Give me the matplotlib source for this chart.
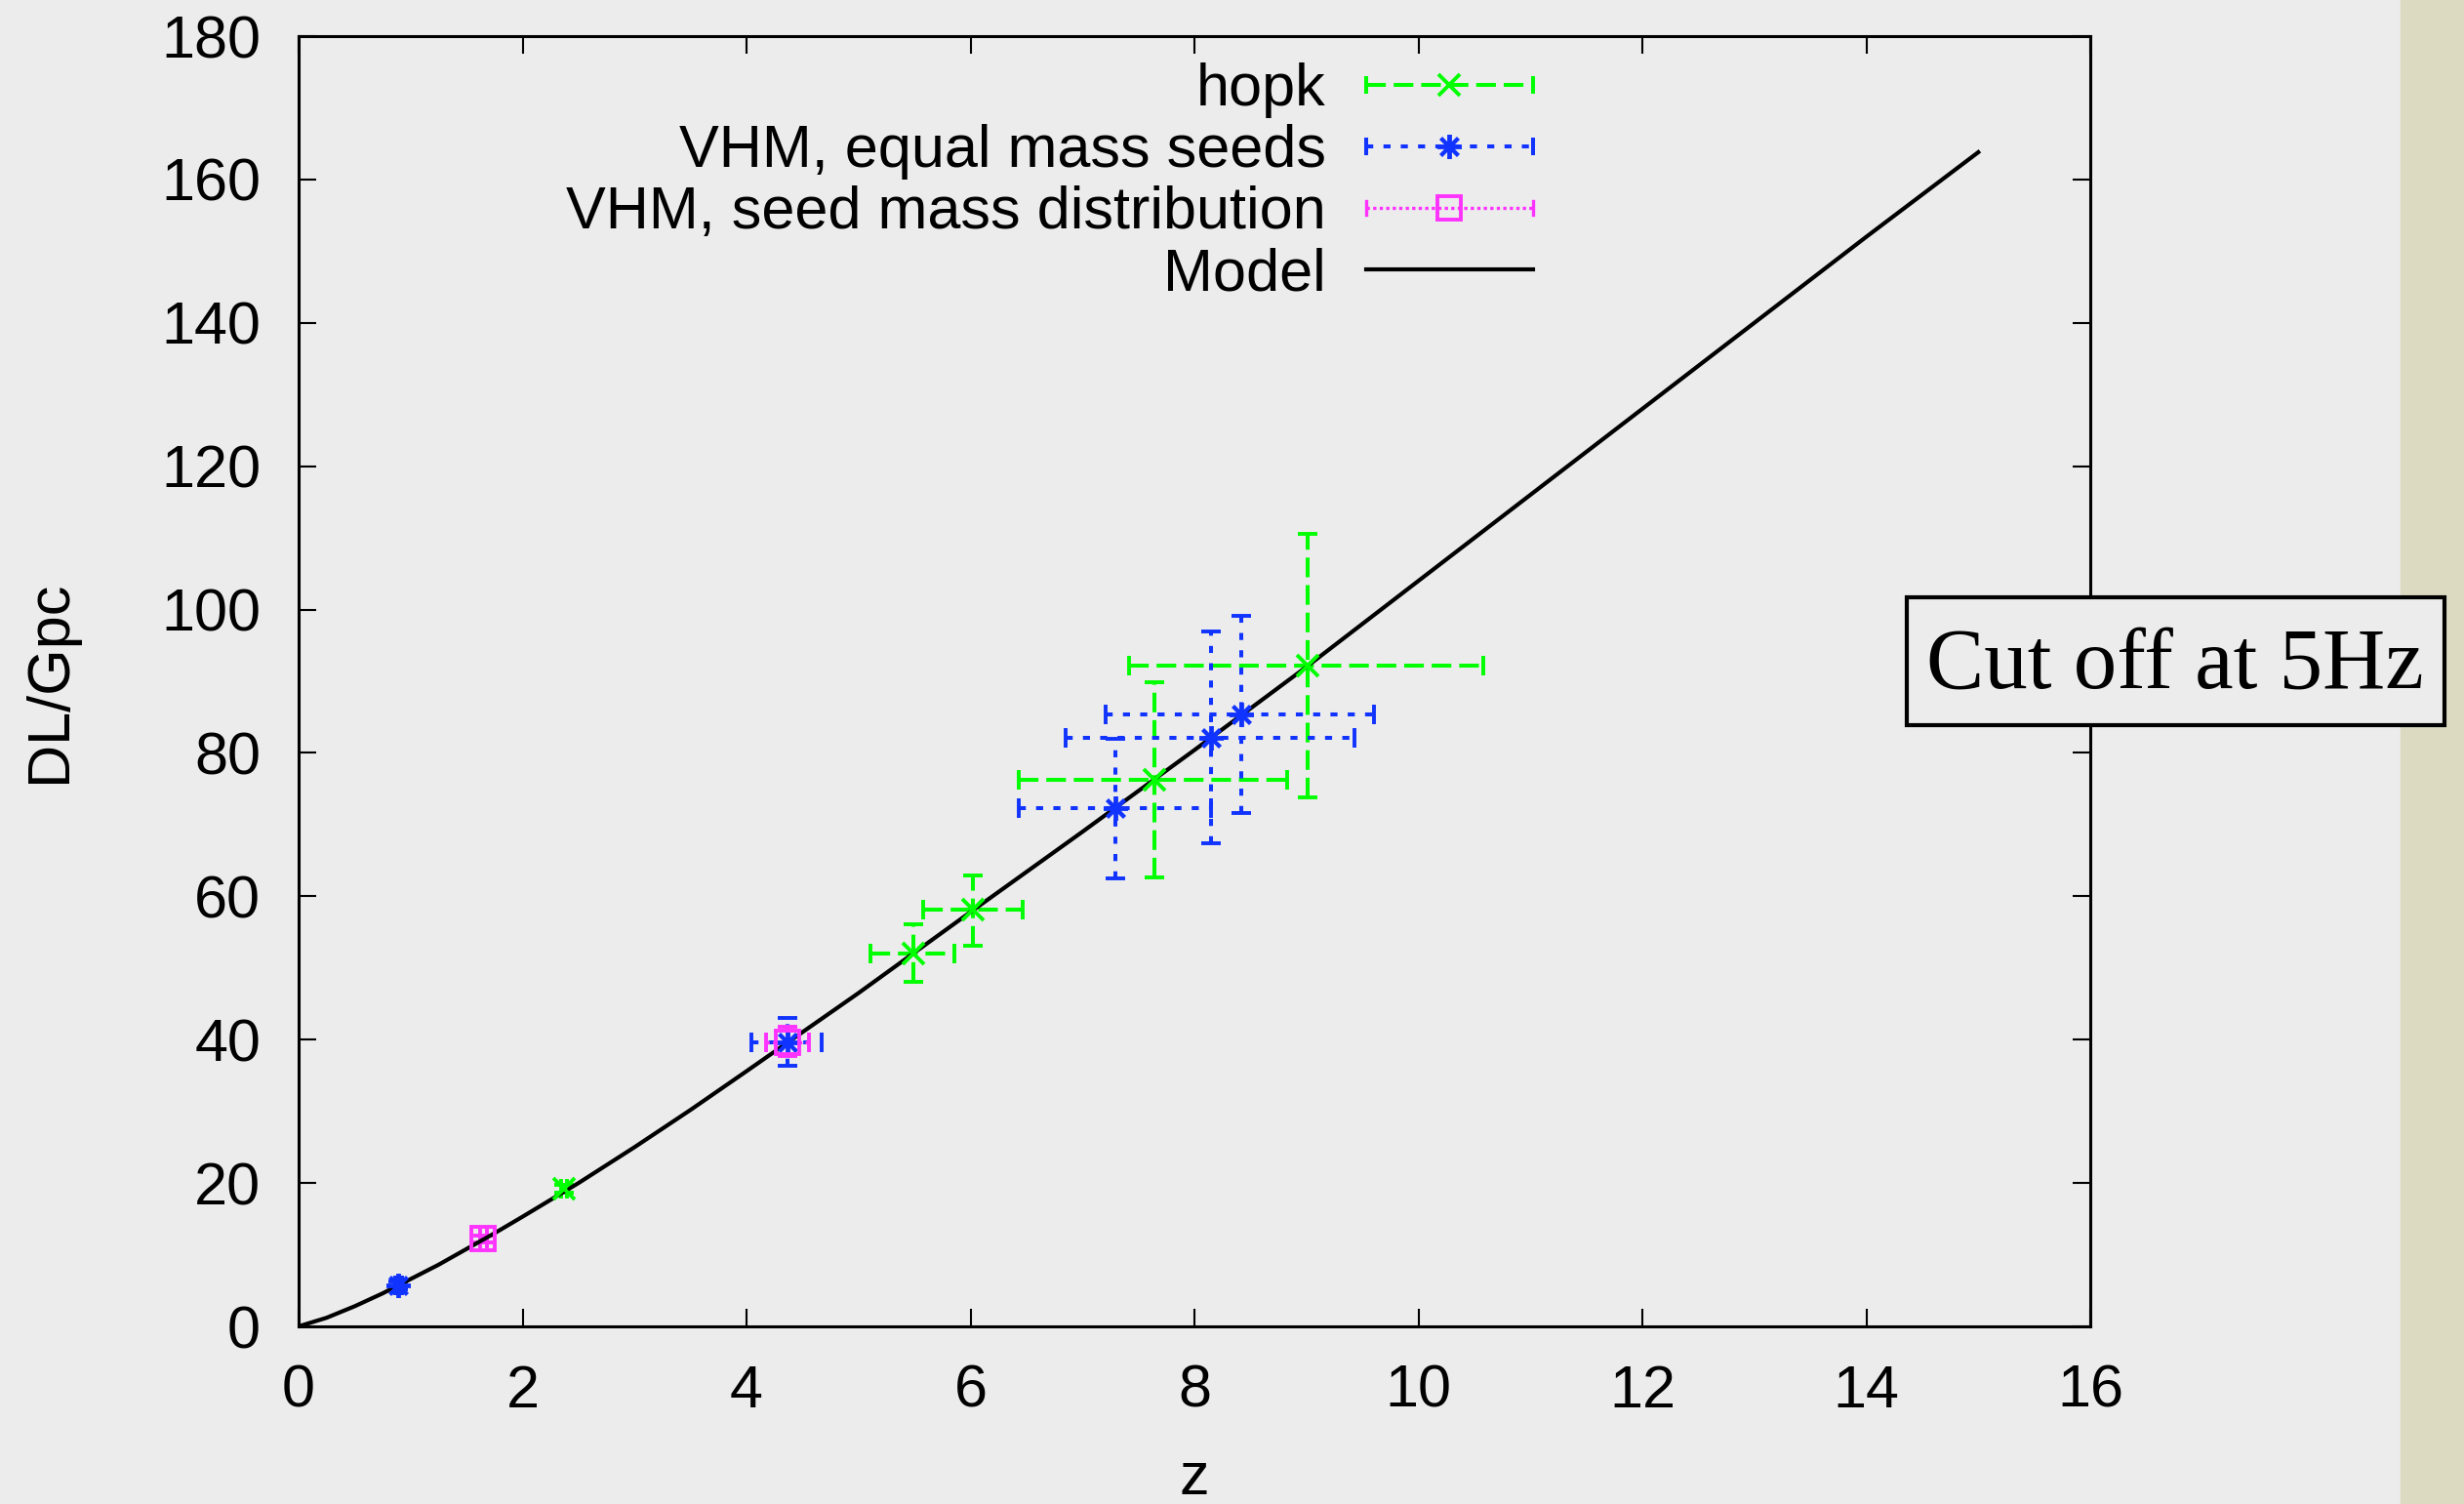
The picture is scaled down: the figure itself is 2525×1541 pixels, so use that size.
import matplotlib
matplotlib.use("Agg")
from matplotlib import pyplot as plt
from matplotlib.lines import Line2D
from matplotlib.legend_handler import HandlerLine2D
from matplotlib.patches import Rectangle
import numpy as np

# hopk
hopk_z = [2.37, 5.49, 6.02, 7.64, 9.01]
hopk_dl = [19.2, 52.0, 58.1, 76.3, 92.2]
hopk_z_lo = [2.34, 5.11, 5.58, 6.43, 7.42]
hopk_z_hi = [2.40, 5.86, 6.47, 8.83, 10.58]
hopk_dl_lo = [18.7, 48.0, 53.1, 62.6, 73.8]
hopk_dl_hi = [19.7, 56.1, 62.9, 89.9, 110.6]

# VHM, equal mass seeds
eq_z = [0.89, 4.37, 7.29, 8.15, 8.42]
eq_dl = [5.7, 39.6, 72.3, 82.1, 85.4]
eq_z_lo = [0.86, 4.04, 6.43, 6.85, 7.21]
eq_z_hi = [0.92, 4.67, 8.15, 9.43, 9.60]
eq_dl_lo = [5.2, 36.4, 62.5, 67.4, 71.6]
eq_dl_hi = [6.2, 43.0, 82.0, 97.0, 99.1]

# VHM, seed mass distribution
sd_z = [1.65, 4.37]
sd_dl = [12.2, 39.6]
sd_z_lo = [1.62, 4.17]
sd_z_hi = [1.68, 4.56]
sd_dl_lo = [11.7, 37.7]
sd_dl_hi = [12.7, 41.8]

# Model
model_z = [0, 0.25, 0.5, 0.75, 1, 1.25, 1.5, 1.75, 2, 2.5, 3, 3.5, 4, 5, 6, 7, 8,
           9, 10, 11, 12, 13, 14, 15]
model_dl = [0, 1.2, 2.8, 4.6, 6.6, 8.6, 10.8, 13.0, 15.3, 20.0, 25.0, 30.2, 35.6,
            46.5, 57.8, 69.0, 80.4, 92.0, 104.0, 116.0, 128.0, 140.0, 152.0, 163.8]

x_ticks = [0, 2, 4, 6, 8, 10, 12, 14, 16]
y_ticks = [0, 20, 40, 60, 80, 100, 120, 140, 160, 180]

GREEN = "#00ff00"
BLUE = "#1133ff"
MAGENTA = "#ff33ff"
BG = "#ececec"

plt.rcParams["font.family"] = ["Liberation Sans", "DejaVu Sans"]

fig = plt.figure(figsize=(25.25, 15.41), dpi=100, facecolor=BG)
ax = fig.add_axes([306 / 2525, 1 - 1359 / 1541, 1836 / 2525, 1322 / 1541])
ax.set_facecolor(BG)

# beige strip on the right
fig.patches.append(Rectangle((2460 / 2525, 0), 1 - 2460 / 2525, 1,
                             transform=fig.transFigure, color="#dcdbc2", zorder=0))


def err_series(z, dl, zlo, zhi, dlo, dhi, color, marker, ms, ls, lw, fill="none"):
    z = np.array(z)
    dl = np.array(dl)
    xerr = [z - np.array(zlo), np.array(zhi) - z]
    yerr = [dl - np.array(dlo), np.array(dhi) - dl]
    _, caps, bars = ax.errorbar(z, dl, xerr=xerr, yerr=yerr, fmt="",
                                linestyle="none", marker=marker,
                                color=color, ms=ms, mew=2.8, mfc=fill,
                                elinewidth=lw, capsize=7, capthick=lw)
    for b in bars:
        b.set_linestyle(ls)


err_series(hopk_z, hopk_dl, hopk_z_lo, hopk_z_hi, hopk_dl_lo, hopk_dl_hi,
           GREEN, "x", 16, (0, (5, 2)), 2.9)
err_series(eq_z, eq_dl, eq_z_lo, eq_z_hi, eq_dl_lo, eq_dl_hi,
           BLUE, (8, 2, 0), 18, (0, (1.8, 2.6)), 2.9)
err_series(sd_z, sd_dl, sd_z_lo, sd_z_hi, sd_dl_lo, sd_dl_hi,
           MAGENTA, "s", 17, (0, (1, 1)), 2.4)

ax.plot(model_z, model_dl, color="black", lw=3.0)

ax.set_xlim(0, 16)
ax.set_ylim(0, 180)
ax.set_xticks(x_ticks)
ax.set_yticks(y_ticks)
ax.tick_params(direction="in", length=13, width=1.5, top=True, right=True,
               labelsize=44, pad=28)
for s in ax.spines.values():
    s.set_linewidth(2.2)

ax.set_xlabel("z", fontsize=44)
ax.set_ylabel("DL/Gpc", fontsize=44)
ax.xaxis.set_label_coords(0.5, -0.097)
ax.yaxis.set_label_coords(-0.123, 0.5)


# gnuplot style key samples with small caps at both ends
class CapHandler(HandlerLine2D):
    def create_artists(self, legend, orig_handle, xdescent, ydescent, width,
                       height, fontsize, trans):
        arts = super().create_artists(legend, orig_handle, xdescent, ydescent,
                                      width, height, fontsize, trans)
        if orig_handle.get_marker() in ("None", None, ""):
            return arts
        ymid = height / 2 - ydescent
        for x in (-xdescent, width - xdescent):
            cap = Line2D([x, x], [ymid - 5, ymid + 5], color=orig_handle.get_color(),
                         lw=orig_handle.get_linewidth())
            cap.set_transform(trans)
            arts.append(cap)
        return arts


handles = [
    Line2D([], [], color=GREEN, ls=(0, (5, 2)), lw=2.9, marker="x", ms=16, mew=2.8),
    Line2D([], [], color=BLUE, ls=(0, (1.8, 2.6)), lw=2.9, marker=(8, 2, 0), ms=18, mew=2.8),
    Line2D([], [], color=MAGENTA, ls=(0, (1, 1)), lw=2.4, marker="s", ms=17, mew=2.8,
           mfc="none"),
    Line2D([], [], color="black", lw=3.0),
]
labels = ["hopk", "VHM, equal mass seeds", "VHM, seed mass distribution", "Model"]
ax.legend(handles, labels, loc="upper right", bbox_to_anchor=(1571 / 2525, 1 - 64 / 1541),
          bbox_transform=fig.transFigure, frameon=False, markerfirst=False,
          fontsize=44, handlelength=2.8, handletextpad=0.67, labelspacing=0.1,
          borderpad=0, borderaxespad=0, handler_map={Line2D: CapHandler()})

# annotation box
fig.patches.append(Rectangle((1954 / 2525, 1 - 743 / 1541), 551 / 2525, 131 / 1541,
                             transform=fig.transFigure, facecolor=BG,
                             edgecolor="black", lw=3, zorder=5))
fig.text(2229 / 2525, 1 - 705 / 1541, "Cut off at 5Hz", fontsize=64,
         family=["Liberation Serif", "DejaVu Serif"], ha="center", va="baseline",
         zorder=6)

fig.savefig("out.png", dpi=100, facecolor=BG)
